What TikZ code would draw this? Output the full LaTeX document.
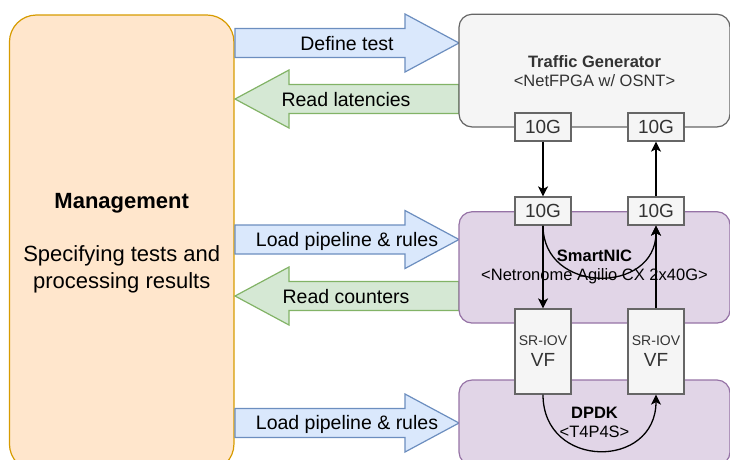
\documentclass[tikz,border=0pt]{standalone}
\usepackage{fontspec}
\setmainfont{Liberation Sans}
\usetikzlibrary{arrows.meta}

\definecolor{mgmtfill}{HTML}{FFE6CC}
\definecolor{mgmtline}{HTML}{D79B00}
\definecolor{greyfill}{HTML}{F5F5F5}
\definecolor{greyline}{HTML}{666666}
\definecolor{greytext}{HTML}{333333}
\definecolor{purplefill}{HTML}{E1D5E7}
\definecolor{purpleline}{HTML}{9673A6}
\definecolor{bluefill}{HTML}{DAE8FC}
\definecolor{blueline}{HTML}{6C8EBF}
\definecolor{greenfill}{HTML}{D5E8D4}
\definecolor{greenline}{HTML}{82B366}

\tikzset{
  devbox/.style={draw, line width=1.2pt, rounded corners=13pt, align=center,
    inner sep=0pt, minimum width=271, font=\fontsize{16.5}{19}\selectfont},
  port/.style={draw=greyline, fill=greyfill, text=greytext, line width=1.2pt,
    inner sep=0pt, minimum width=56, minimum height=28, font=\fontsize{19}{19}\selectfont},
  vfport/.style={port, minimum height=85, align=center},
  pushstyle/.style={draw=blueline, fill=bluefill, line width=1.2pt, line join=miter},
  pullstyle/.style={draw=greenline, fill=greenfill, line width=1.2pt, line join=miter},
  arrowlabel/.style={inner sep=0pt, font=\fontsize{19.5}{22}\selectfont},
  flow/.style={line width=1.3pt, -{Stealth[length=10pt,width=10pt,inset=2.5pt]}}
}

% block arrow towards a device, #1 = centre y
\newcommand{\pushright}[1]{%
  \draw[pushstyle] (235,#1-14.5) -- (405,#1-14.5) -- (405,#1-29) -- (459,#1)
    -- (405,#1+29) -- (405,#1+14.5) -- (235,#1+14.5) -- cycle;}
% block arrow back to management, #1 = centre y
\newcommand{\pullleft}[1]{%
  \draw[pullstyle] (459,#1-14.5) -- (289,#1-14.5) -- (289,#1-29) -- (235,#1)
    -- (289,#1+29) -- (289,#1+14.5) -- (459,#1+14.5) -- cycle;}

\begin{document}
\begin{tikzpicture}[x=1pt,y=-1pt]
\useasboundingbox (0,0) rectangle (730,459);
\clip (0,0) rectangle (730,459);

% management
\node[draw=mgmtline, fill=mgmtfill, line width=1.2pt, rounded corners=27pt,
  minimum width=224.5, minimum height=456, align=center, inner sep=0pt,
  font=\fontsize{22}{27}\selectfont] (mgmt) at (121.7,243)
  {\textbf{Management}\\[26pt]Specifying tests and\\processing results};

% requests and replies
\pushright{43}
\pullleft{99}
\pushright{239.5}
\pullleft{296}
\pushright{423}
\node[arrowlabel] (deftest) at (347,44) {Define test};
\node[arrowlabel] (readlat) at (346,100) {Read latencies};
\node[arrowlabel] (loadnic) at (347,241) {Load pipeline \& rules};
\node[arrowlabel] (readcnt) at (346,297) {Read counters};
\node[arrowlabel] (loaddpdk) at (347,424) {Load pipeline \& rules};

% devices
\node[devbox, draw=greyline, fill=greyfill, text=greytext, minimum height=112.7]
  (tg) at (594.5,70.6) {\textbf{Traffic Generator}\\<NetFPGA w/ OSNT>};
\node[devbox, draw=purpleline, fill=purplefill, minimum height=111.3]
  (nic) at (594.5,267.4) {\textbf{SmartNIC}\\<Netronome Agilio CX 2x40G>};
\node[devbox, draw=purpleline, fill=purplefill, minimum height=85]
  (dpdk) at (594.5,422.5) {\textbf{DPDK}\\<T4P4S>};

% ports
\node[port] (tgin) at (543,127) {10G};
\node[port] (tgout) at (656,127) {10G};
\node[port] (nicin) at (543,211) {10G};
\node[port] (nicout) at (656,211) {10G};
\node[vfport] (vfin) at (543,351.5) {{\fontsize{14}{19}\selectfont SR-IOV}\\[2pt]VF};
\node[vfport] (vfout) at (656,351.5) {{\fontsize{14}{19}\selectfont SR-IOV}\\[2pt]VF};

% packet path
\draw[flow] (tgin.south) -- (nicin.north);
\draw[flow] (nicout.north) -- (tgout.south);
\draw[flow] (nicin.south) -- (vfin.north);
\draw[flow] (vfout.north) -- (nicout.south);
\draw[flow] (nicin.south) .. controls +(0,69) and +(0,69) .. (nicout.south);
\draw[flow] (vfin.south) .. controls +(0,75) and +(0,75) .. (vfout.south);
\end{tikzpicture}
\end{document}
